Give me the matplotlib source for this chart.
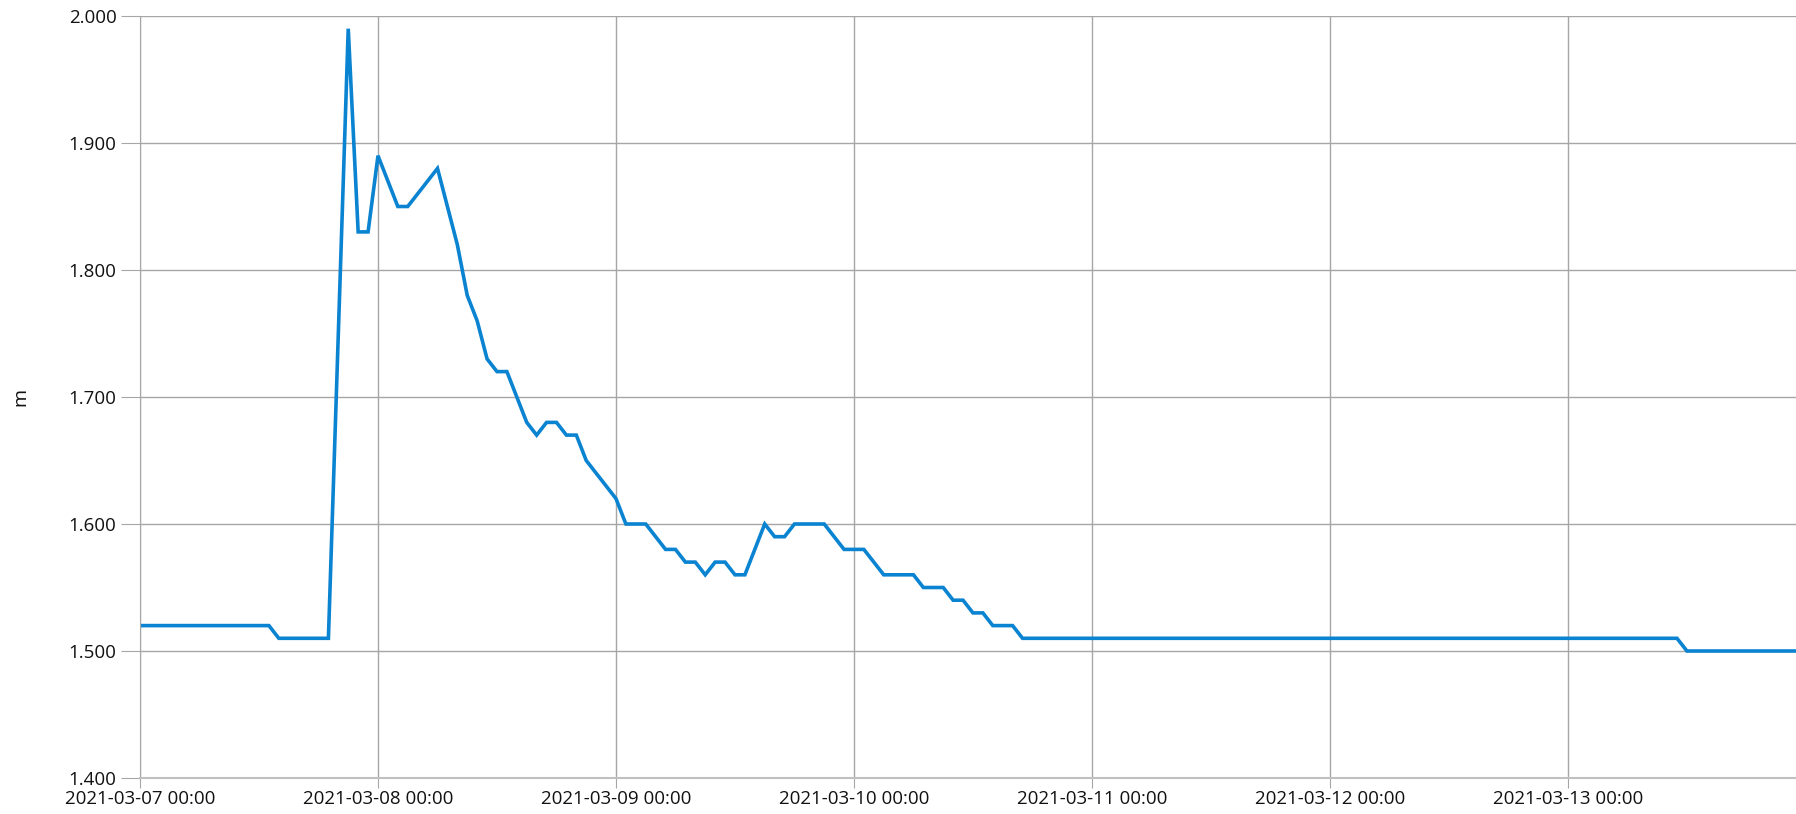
import pandas as pd
import matplotlib
matplotlib.use('Agg')
import matplotlib.pyplot as plt
import matplotlib.dates as mdates
from matplotlib.ticker import MultipleLocator, FormatStrFormatter

# hours after 2021-03-07 00:00, water level in m
hours = [0, 13, 14, 19, 21, 22, 23, 24, 26, 27, 30, 32, 33, 34, 35, 36, 37,
         39, 40, 41, 42, 43, 44, 45, 48, 49, 51, 53, 54, 55, 56, 57, 58, 59,
         60, 61, 63, 64, 65, 66, 69, 71, 73, 75, 78, 79, 81, 82, 83, 84, 85,
         86, 88, 89, 155, 156, 167]
levels = [1.52, 1.52, 1.51, 1.51, 1.99, 1.83, 1.83, 1.89, 1.85, 1.85, 1.88,
          1.82, 1.78, 1.76, 1.73, 1.72, 1.72, 1.68, 1.67, 1.68, 1.68, 1.67,
          1.67, 1.65, 1.62, 1.60, 1.60, 1.58, 1.58, 1.57, 1.57, 1.56, 1.57,
          1.57, 1.56, 1.56, 1.60, 1.59, 1.59, 1.60, 1.60, 1.58, 1.58, 1.56,
          1.56, 1.55, 1.55, 1.54, 1.54, 1.53, 1.53, 1.52, 1.52, 1.51, 1.51,
          1.50, 1.50]

start = pd.Timestamp('2021-03-07 00:00')
end = pd.Timestamp('2021-03-13 23:00')
times = start + pd.to_timedelta(hours, unit='h')

plt.rcParams['font.family'] = ['Open Sans', 'DejaVu Sans']

fig = plt.figure(figsize=(17.96, 8.14), dpi=100)
ax = fig.add_axes([140 / 1796, 1 - 778 / 814, 1 - 140 / 1796, 762 / 814])

ax.plot(times, levels, color='#0a83d1', linewidth=2.6, solid_joinstyle='miter')

ax.set_xlim(start, end)
ax.set_ylim(1.4, 2.0)
ax.yaxis.set_major_locator(MultipleLocator(0.1))
ax.yaxis.set_major_formatter(FormatStrFormatter('%.3f'))
ax.xaxis.set_major_locator(mdates.DayLocator())
ax.xaxis.set_major_formatter(mdates.DateFormatter('%Y-%m-%d %H:%M'))

ax.grid(True, color='#a6a6a6', linewidth=1.0)
ax.set_axisbelow(True)
for side in ['top', 'right']:
    ax.spines[side].set_visible(False)
ax.spines['left'].set_color('#a6a6a6')
ax.spines['bottom'].set_color('#c0c0c0')
ax.spines['bottom'].set_linewidth(1.5)

ax.tick_params(axis='y', length=14, color='#a6a6a6', pad=3, labelsize=13.5,
               labelcolor='#111111')
ax.tick_params(axis='x', length=7, color='#a6a6a6', pad=2, labelsize=13.5,
               labelcolor='#111111')

ax.set_ylabel('m', fontsize=14, color='#111111')
ax.yaxis.set_label_coords(-0.072, 0.5)
ax.yaxis.label.set_va('center')

fig.savefig('out.png', dpi=100)
